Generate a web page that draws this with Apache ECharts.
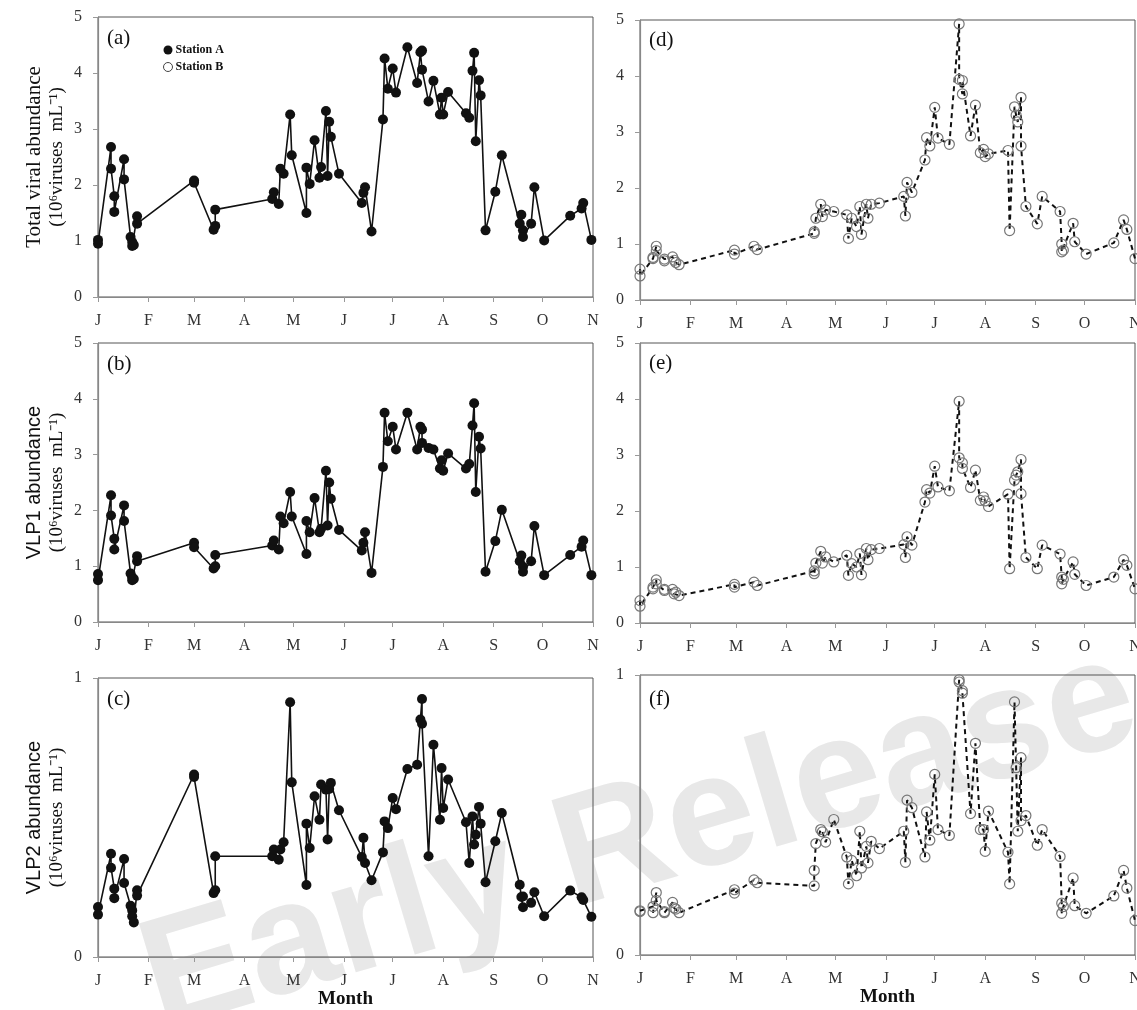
<!DOCTYPE html>
<html>
<head>
<meta charset="utf-8">
<script src="https://cdn.jsdelivr.net/npm/echarts@6/dist/echarts.min.js"></script>
<style>
  html, body { margin: 0; padding: 0; background: #fff; }
  #chart { width: 1137px; height: 1010px; }
</style>
</head>
<body>
<div id="chart"></div>
<script>
// Month starts as day offsets from 1 January, and their one-letter labels
const monthStarts = [0, 31, 59, 90, 120, 151, 181, 212, 243, 273, 304];
const monthLetters = ['J', 'F', 'M', 'A', 'M', 'J', 'J', 'A', 'S', 'O', 'N'];

// Station A: sampling day (days since 1 Jan) and abundances (10^6 viruses mL^-1)
const daysA = [0, 0, 8, 8, 10, 10, 16, 16, 20, 21, 21, 22, 24, 24, 59, 59, 71, 72, 72,
  107, 108, 111, 112, 114, 118, 119, 128, 128, 130, 133, 136, 137, 140, 141, 142, 143, 148,
  162, 163, 164, 168, 175, 176, 178, 181, 183, 190, 196, 198, 199, 199, 203, 206, 210, 211,
  212, 215, 226, 228, 230, 231, 232, 234, 235, 238, 244, 248, 259, 260, 261, 261, 266, 268,
  274, 290, 297, 298, 303];
const totalA = [1.02, 0.95, 2.68, 2.29, 1.80, 1.52, 2.46, 2.10, 1.07, 0.98, 0.91, 0.93, 1.44, 1.31,
  2.08, 2.04, 1.20, 1.27, 1.56, 1.75, 1.87, 1.66, 2.29, 2.20, 3.26, 2.53, 1.50, 2.31, 2.02, 2.80,
  2.13, 2.32, 3.32, 2.16, 3.13, 2.86, 2.20, 1.68, 1.86, 1.96, 1.17, 3.17, 4.26, 3.72, 4.08, 3.65,
  4.46, 3.82, 4.37, 4.40, 4.06, 3.49, 3.86, 3.26, 3.56, 3.26, 3.66, 3.28, 3.20, 4.04, 4.36, 2.78,
  3.87, 3.60, 1.19, 1.88, 2.53, 1.31, 1.47, 1.19, 1.07, 1.31, 1.96, 1.01, 1.45, 1.58, 1.68, 1.02];
const vlp1A = [0.86, 0.75, 2.27, 1.91, 1.49, 1.30, 2.09, 1.81, 0.87, 0.80, 0.75, 0.77, 1.18, 1.09,
  1.42, 1.34, 0.96, 1.00, 1.20, 1.37, 1.46, 1.30, 1.89, 1.77, 2.33, 1.89, 1.22, 1.81, 1.61, 2.22,
  1.61, 1.67, 2.71, 1.73, 2.50, 2.21, 1.65, 1.28, 1.42, 1.61, 0.88, 2.78, 3.75, 3.24, 3.50, 3.09,
  3.75, 3.09, 3.50, 3.45, 3.21, 3.12, 3.09, 2.75, 2.90, 2.71, 3.02, 2.75, 2.83, 3.52, 3.92, 2.33,
  3.32, 3.11, 0.90, 1.45, 2.01, 1.09, 1.19, 0.99, 0.90, 1.09, 1.72, 0.84, 1.20, 1.35, 1.46, 0.84];
const vlp2A = [0.179, 0.152, 0.370, 0.320, 0.245, 0.211, 0.351, 0.265, 0.184, 0.167, 0.146, 0.124,
  0.239, 0.220, 0.654, 0.645, 0.229, 0.239, 0.361, 0.361, 0.385, 0.349, 0.385, 0.411, 0.913, 0.626,
  0.258, 0.478, 0.391, 0.576, 0.492, 0.618, 0.600, 0.421, 0.602, 0.624, 0.526, 0.358, 0.427, 0.337,
  0.275, 0.375, 0.486, 0.462, 0.570, 0.530, 0.674, 0.689, 0.851, 0.925, 0.836, 0.361, 0.761, 0.492,
  0.677, 0.534, 0.636, 0.483, 0.337, 0.504, 0.403, 0.438, 0.538, 0.478, 0.268, 0.415, 0.516, 0.259,
  0.215, 0.217, 0.178, 0.194, 0.232, 0.146, 0.238, 0.214, 0.204, 0.144];

// Station B
const daysB = [0, 0, 8, 8, 10, 10, 15, 15, 20, 21, 22, 24, 58, 58, 70, 72, 107, 107, 108, 111, 112,
  114, 119, 127, 128, 130, 133, 135, 136, 139, 140, 142, 147, 162, 163, 164, 167, 175, 176, 178, 181,
  183, 190, 196, 196, 198, 198, 203, 206, 209, 211, 212, 214, 226, 227, 230, 231, 232, 234, 234, 237,
  244, 247, 258, 259, 259, 260, 266, 267, 274, 291, 297, 299, 304];
const totalB = [0.55, 0.43, 0.74, 0.76, 0.96, 0.88, 0.73, 0.70, 0.77, 0.71, 0.67, 0.63, 0.89, 0.82,
  0.96, 0.90, 1.19, 1.22, 1.46, 1.71, 1.49, 1.61, 1.58, 1.52, 1.10, 1.46, 1.31, 1.67, 1.17, 1.71,
  1.46, 1.71, 1.73, 1.85, 1.50, 2.10, 1.92, 2.50, 2.90, 2.75, 3.44, 2.89, 2.78, 4.93, 3.94, 3.68,
  3.92, 2.93, 3.48, 2.63, 2.69, 2.56, 2.61, 2.67, 1.24, 3.45, 3.30, 3.18, 3.62, 2.75, 1.67, 1.36,
  1.85, 1.58, 1.00, 0.86, 0.89, 1.37, 1.04, 0.82, 1.02, 1.43, 1.26, 0.74];
const vlp1B = [0.40, 0.30, 0.64, 0.61, 0.77, 0.70, 0.58, 0.60, 0.60, 0.52, 0.55, 0.49, 0.69, 0.64,
  0.73, 0.67, 0.93, 0.88, 1.07, 1.28, 1.07, 1.18, 1.09, 1.21, 0.85, 1.06, 1.00, 1.24, 0.86, 1.33,
  1.13, 1.31, 1.33, 1.40, 1.17, 1.54, 1.39, 2.16, 2.38, 2.32, 2.80, 2.43, 2.36, 3.96, 2.95, 2.86,
  2.76, 2.42, 2.73, 2.19, 2.25, 2.18, 2.08, 2.30, 0.97, 2.55, 2.64, 2.70, 2.92, 2.31, 1.17, 0.97,
  1.39, 1.23, 0.82, 0.70, 0.78, 1.09, 0.87, 0.67, 0.82, 1.13, 1.03, 0.61];
const vlp2B = [0.158, 0.155, 0.173, 0.151, 0.223, 0.195, 0.151, 0.155, 0.188, 0.168, 0.164, 0.151,
  0.233, 0.221, 0.268, 0.258, 0.247, 0.302, 0.398, 0.448, 0.440, 0.403, 0.484, 0.350, 0.254, 0.338,
  0.283, 0.442, 0.311, 0.388, 0.329, 0.406, 0.380, 0.442, 0.331, 0.553, 0.526, 0.350, 0.511, 0.410,
  0.645, 0.448, 0.427, 0.983, 0.975, 0.944, 0.935, 0.505, 0.756, 0.448, 0.448, 0.370, 0.514, 0.367,
  0.254, 0.904, 0.669, 0.442, 0.705, 0.480, 0.498, 0.392, 0.448, 0.352, 0.185, 0.149, 0.173, 0.275,
  0.176, 0.149, 0.211, 0.302, 0.239, 0.123];

const serif = 'Liberation Serif';
const sans = 'Liberation Sans';

// Fixed plot rectangles; labels are allowed to run past the canvas edge
const grids = [
  { left: 98,  top: 17,  width: 495, height: 280 },  // (a)
  { left: 98,  top: 343, width: 495, height: 279 },  // (b)
  { left: 98,  top: 678, width: 495, height: 279 },  // (c)
  { left: 640, top: 20,  width: 495, height: 280 },  // (d)
  { left: 640, top: 343, width: 495, height: 280 },  // (e)
  { left: 640, top: 675, width: 495, height: 280 }   // (f)
].map(g => Object.assign({
  show: true, borderColor: '#555', borderWidth: 1,
  containLabel: false, outerBoundsMode: 'none'
}, g));

function xAxis(gridIndex, withName) {
  return {
    type: 'value', gridIndex, min: 0, max: 304,
    name: withName ? 'Month' : '',
    nameLocation: 'middle', nameGap: 32,
    nameTextStyle: { fontFamily: serif, fontWeight: 'bold', fontSize: 19, color: '#111' },
    axisLine: { show: true, lineStyle: { color: '#888', width: 1.2 } },
    axisTick: { show: true, customValues: monthStarts, length: 5, lineStyle: { color: '#999' } },
    axisLabel: {
      customValues: monthStarts, margin: 16, hideOverlap: false,
      fontFamily: serif, fontSize: 16, color: '#333',
      formatter: v => monthLetters[monthStarts.indexOf(v)]
    },
    splitLine: { show: false }
  };
}

function yAxis(gridIndex, max, name) {
  return {
    type: 'value', gridIndex, min: 0, max, interval: 1,
    name: name || '', nameLocation: 'middle', nameGap: 30, nameRotate: 90,
    nameTextStyle: {
      rich: {
        t: { fontFamily: serif, fontSize: 21, color: '#111', lineHeight: 24 },
        s: { fontFamily: sans, fontSize: 20, color: '#111', lineHeight: 24 },
        u: { fontFamily: serif, fontSize: 19, color: '#111', lineHeight: 22 }
      }
    },
    axisLine: { show: true, lineStyle: { color: '#888', width: 1.2 } },
    axisTick: { show: true, length: 5, lineStyle: { color: '#999' } },
    axisLabel: { margin: 16, fontFamily: serif, fontSize: 16, color: '#333' },
    splitLine: { show: false }
  };
}

const unitLine = '{u|(10⁶viruses  mL⁻¹)}';

const xAxes = [xAxis(0, false), xAxis(1, false), xAxis(2, true),
               xAxis(3, false), xAxis(4, false), xAxis(5, true)];
const yAxes = [
  yAxis(0, 5, '{t|Total viral abundance}\n' + unitLine),
  yAxis(1, 5, '{s|VLP1 abundance}\n' + unitLine),
  yAxis(2, 1, '{s|VLP2 abundance}\n' + unitLine),
  yAxis(3, 5), yAxis(4, 5), yAxis(5, 1)
];

const pairs = (days, vals) => days.map((d, i) => [d, vals[i]]);

function seriesA(idx, vals) {
  return {
    name: 'Station A', type: 'line', xAxisIndex: idx, yAxisIndex: idx,
    data: pairs(daysA, vals), symbol: 'circle', symbolSize: 10, showAllSymbol: true,
    itemStyle: { color: '#111' },
    lineStyle: { color: '#111', width: 1.6 },
    z: 3
  };
}
function seriesB(idx, vals) {
  return {
    name: 'Station B', type: 'line', xAxisIndex: idx, yAxisIndex: idx,
    data: pairs(daysB, vals), symbol: 'circle', symbolSize: 10, showAllSymbol: true,
    itemStyle: { color: 'rgba(255,255,255,0)', borderColor: '#777', borderWidth: 1.2 },
    lineStyle: { color: '#111', width: 2, type: [5, 4] },
    z: 3
  };
}

const panelLabels = [
  ['(a)', 107, 28], ['(b)', 107, 354], ['(c)', 107, 689],
  ['(d)', 649, 30], ['(e)', 649, 353], ['(f)', 649, 689]
];

const option = {
  animation: false,
  backgroundColor: '#fff',
  grid: grids,
  xAxis: xAxes,
  yAxis: yAxes,
  legend: {
    left: 158, top: 39, orient: 'vertical', itemGap: 5,
    itemWidth: 9, itemHeight: 9, selectedMode: false,
    textStyle: { fontFamily: serif, fontWeight: 'bold', fontSize: 12, color: '#111', padding: [0, 0, 0, -2] },
    data: [
      { name: 'Station A', icon: 'circle', itemStyle: { color: '#111' } },
      { name: 'Station B', icon: 'circle', itemStyle: { color: '#fff', borderColor: '#444', borderWidth: 1 } }
    ]
  },
  graphic: [
    {
      type: 'text', z: -1, x: 640, y: 842, rotation: 0.29,
      style: {
        text: 'Early Release', fill: '#e8e8e8',
        font: 'bold 158px "Liberation Sans"', align: 'center', verticalAlign: 'middle'
      },
      silent: true
    }
  ].concat(panelLabels.map(([t, x, y]) => ({
    type: 'text', x, y, z: 10,
    style: { text: t, fill: '#111', font: '21px "Liberation Serif"' }
  }))),
  series: [
    seriesA(0, totalA), seriesA(1, vlp1A), seriesA(2, vlp2A),
    seriesB(3, totalB), seriesB(4, vlp1B), seriesB(5, vlp2B)
  ]
};

const chart = echarts.init(document.getElementById('chart'), null, { renderer: 'canvas' });
chart.setOption(option);
</script>
</body>
</html>
